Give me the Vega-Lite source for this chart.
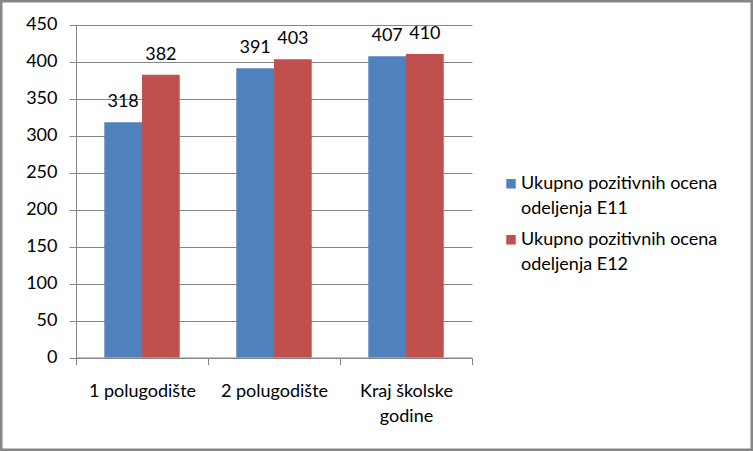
{
  "$schema": "https://vega.github.io/schema/vega-lite/v6.json",
  "width": 753,
  "height": 451,
  "padding": 0,
  "autosize": {"type": "none"},
  "background": "white",
  "config": {
    "view": {"stroke": "#868686", "strokeWidth": 5},
    "font": "Lato",
    "style": {"guide-label": {"lineHeight": 25}}
  },
  "data": {
    "values": [
      {"period": "1 polugodište", "series": "Ukupno pozitivnih ocena odeljenja E11", "value": 318},
      {"period": "1 polugodište", "series": "Ukupno pozitivnih ocena odeljenja E12", "value": 382},
      {"period": "2 polugodište", "series": "Ukupno pozitivnih ocena odeljenja E11", "value": 391},
      {"period": "2 polugodište", "series": "Ukupno pozitivnih ocena odeljenja E12", "value": 403},
      {"period": "Kraj školske godine", "series": "Ukupno pozitivnih ocena odeljenja E11", "value": 407},
      {"period": "Kraj školske godine", "series": "Ukupno pozitivnih ocena odeljenja E12", "value": 410}
    ]
  },
  "encoding": {
    "x": {
      "field": "period", "type": "nominal", "sort": null,
      "scale": {"range": [76, 472], "paddingInner": 0, "paddingOuter": 0},
      "axis": {
        "title": null, "orient": "bottom", "offset": -93.5, "labelAngle": 0,
        "tickBand": "extent", "tickSize": 7, "tickColor": "#868686",
        "domainColor": "#868686", "labelBaseline": "alphabetic", "labelPadding": 32,
        "labelFontSize": 18, "labelColor": "black", "labelFont": "Lato", "labelLimit": 0,
        "labelExpr": "datum.label == 'Kraj školske godine' ? ['Kraj školske', 'godine'] : datum.label"
      }
    },
    "xOffset": {
      "field": "series", "type": "nominal",
      "scale": {"paddingInner": 0, "paddingOuter": 0.75}
    },
    "y": {
      "field": "value", "type": "quantitative",
      "scale": {"domain": [0, 450], "range": [357.5, 24.5], "nice": false},
      "axis": {
        "title": null, "orient": "left", "offset": -76,
        "values": [0, 50, 100, 150, 200, 250, 300, 350, 400, 450],
        "tickSize": 7, "tickColor": "#868686", "domainColor": "#868686",
        "grid": true, "gridColor": "#868686", "gridOpacity": 1,
        "labelPadding": 12, "labelFontSize": 18, "labelColor": "black", "labelFont": "Lato"
      }
    }
  },
  "layer": [
    {
      "mark": {"type": "bar"},
      "encoding": {
        "color": {
          "field": "series", "type": "nominal",
          "scale": {"range": ["#4F81BD", "#C0504D"]},
          "legend": {
            "title": null, "orient": "none", "legendX": 502, "legendY": 180,
            "symbolType": "M-1,-2.1H1V-0.1H-1Z", "symbolSize": 90, "symbolStrokeWidth": 0,
            "symbolOpacity": 1, "labelFontSize": 18, "labelFont": "Lato",
            "labelColor": "black", "labelLimit": 400, "labelOffset": 1,
            "labelBaseline": "alphabetic", "rowPadding": 13, "padding": 0,
            "labelExpr": "[slice(datum.label, 0, 23), slice(datum.label, 24)]"
          }
        }
      }
    },
    {
      "mark": {"type": "text", "dy": -15, "baseline": "alphabetic", "fontSize": 18, "font": "Lato", "color": "black"},
      "encoding": {"text": {"field": "value", "type": "quantitative"}}
    }
  ]
}
